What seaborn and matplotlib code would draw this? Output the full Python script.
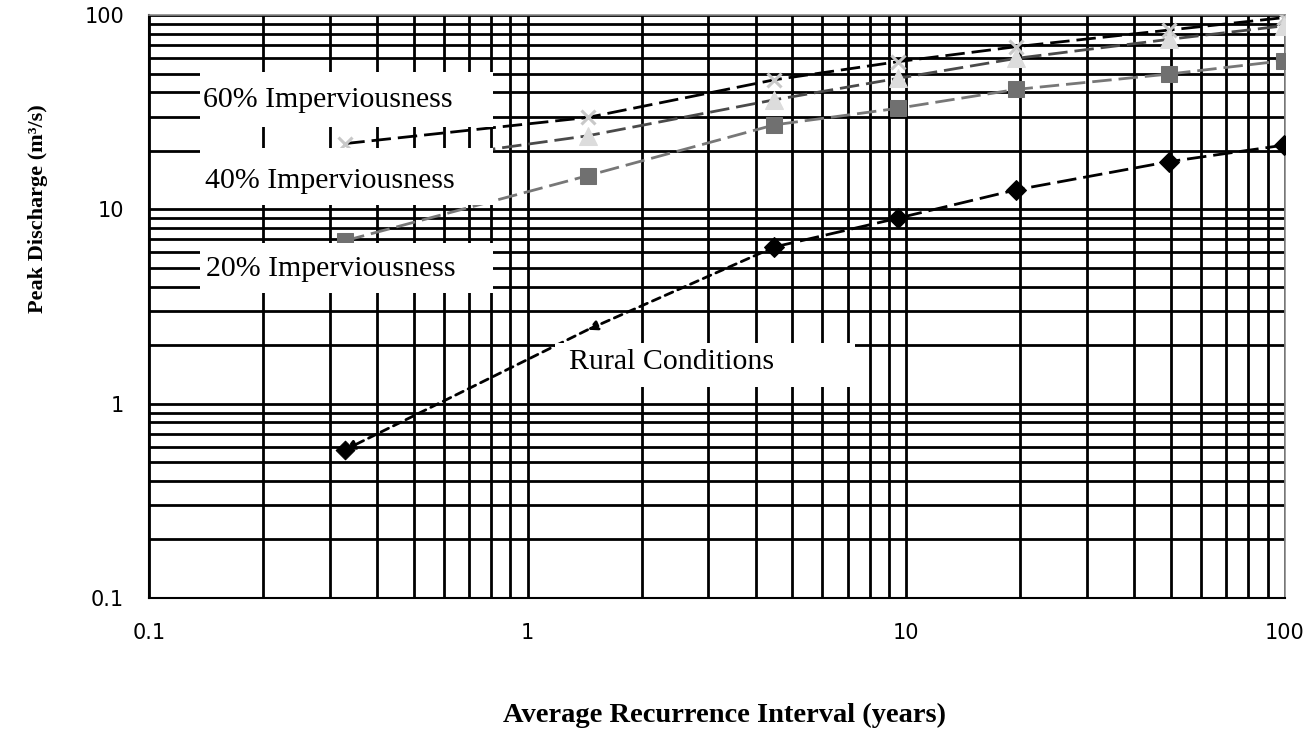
import numpy as np
import pandas as pd
import matplotlib
matplotlib.use("Agg")
import matplotlib.pyplot as plt
import matplotlib.ticker as mticker
from matplotlib.patches import Rectangle
import seaborn as sns

# ---------------- data ----------------
ari_years = [0.33, 1.44, 4.48, 9.49, 19.5, 49.5, 99.5]
rural = [0.58, 2.4, 6.4, 9.0, 12.6, 17.6, 21.4]
imp20 = [6.9, 14.9, 27.2, 33.1, 41.4, 49.7, 58.2]
imp40 = [16.0, 23.9, 36.6, 47.2, 59.8, 75.0, 88.0]
imp60 = [21.8, 29.7, 46.4, 57.5, 68.7, 83.7, 97.0]

xtick_vals = [0.1, 1, 10, 100]
xtick_labels = ["0.1", "1", "10", "100"]
ytick_vals = [0.1, 1, 10, 100]
ytick_labels = ["0.1", "1", "10", "100"]

label60 = "60% Imperviousness"
label40 = "40% Imperviousness"
label20 = "20% Imperviousness"
label_rural = "Rural Conditions"
xlabel = "Average Recurrence Interval (years)"
ylabel = "Peak Discharge (m\u00b3/s)"

# ---------------- figure ----------------
sns.set_theme(style="white")
plt.rcParams["font.family"] = ["DejaVu Sans"]
plt.rcParams["text.color"] = "black"

W, H = 1312, 729
fig = plt.figure(figsize=(W / 100, H / 100), dpi=100)
ax = fig.add_axes([149 / W, 1 - 598 / H, (1285 - 149) / W, (598 - 15) / H])

ax.set_xscale("log")
ax.set_yscale("log")
ax.set_xlim(0.1, 100)
ax.set_ylim(0.1, 100)

# grid
ax.xaxis.set_minor_locator(mticker.LogLocator(base=10, subs=np.arange(2, 10)))
ax.yaxis.set_minor_locator(mticker.LogLocator(base=10, subs=np.arange(2, 10)))
ax.xaxis.set_minor_formatter(mticker.NullFormatter())
ax.yaxis.set_minor_formatter(mticker.NullFormatter())
ax.grid(True, which="both", color="black", linewidth=2.0, zorder=0)
ax.set_axisbelow(True)

ls = (0, (7, 2.5))
df = pd.DataFrame({"x": ari_years, "rural": rural, "i20": imp20, "i40": imp40, "i60": imp60})

sns.lineplot(data=df, x="x", y="i60", ax=ax, color="black", linewidth=2.0, linestyle=ls,
             marker="x", markersize=10, markeredgewidth=2.2, markeredgecolor="#c8c8c8",
             zorder=3, errorbar=None)
sns.lineplot(data=df, x="x", y="i40", ax=ax, color="#4a4a4a", linewidth=2.0, linestyle=ls,
             marker="^", markersize=13, markerfacecolor="#dcdcdc", markeredgecolor="#dcdcdc",
             zorder=3, errorbar=None)
sns.lineplot(data=df, x="x", y="i20", ax=ax, color="#777777", linewidth=2.0, linestyle=ls,
             marker="s", markersize=12, markerfacecolor="#707070", markeredgecolor="#707070",
             zorder=3, errorbar=None)
# rural: full line from index 2, arrows for the first two segments
df_r = df.iloc[2:]
sns.lineplot(data=df_r, x="x", y="rural", ax=ax, color="black", linewidth=2.0, linestyle=ls,
             marker="D", markersize=10, markerfacecolor="black", markeredgecolor="black",
             zorder=3, errorbar=None)
sns.scatterplot(x=[ari_years[0]], y=[rural[0]], ax=ax, color="black", marker="D", s=90,
                zorder=3, edgecolor="black")
arrow_kw = dict(arrowstyle="-|>", color="black", lw=2.0, linestyle=(0, (3, 2)),
                shrinkA=0, shrinkB=0, mutation_scale=14)
ax.annotate("", xy=(ari_years[1], rural[1]), xytext=(ari_years[2], rural[2]),
            arrowprops=arrow_kw, zorder=3)
ax.annotate("", xy=(ari_years[0], rural[0]), xytext=(ari_years[1], rural[1]),
            arrowprops=arrow_kw, zorder=3)

# label boxes (white) with text
def label_box(x0, y0, x1, y1, text, tx, ty):
    r = Rectangle((x0 / W, 1 - y1 / H), (x1 - x0) / W, (y1 - y0) / H,
                  transform=fig.transFigure, facecolor="white", edgecolor="none",
                  zorder=5, clip_on=False)
    ax.add_patch(r)
    ax.text(tx / W, 1 - ty / H, text, transform=fig.transFigure, ha="left", va="center",
            fontsize=21.5, family=["Liberation Serif", "DejaVu Serif"], color="black", zorder=6)

label_box(200, 72, 493, 127, label60, 203, 100)
label_box(200, 148, 493, 205, label40, 205, 181)
label_box(200, 243, 493, 293, label20, 206, 269)
label_box(555, 343, 855, 387, label_rural, 569, 362)

# ticks
ax.set_xticks(xtick_vals)
ax.set_xticklabels(xtick_labels, fontsize=15, color="black")
ax.set_yticks(ytick_vals)
ax.set_yticklabels(ytick_labels, fontsize=15, color="black")
ax.tick_params(axis="both", which="major", direction="out", length=6, width=1.3,
               color="black")
ax.tick_params(axis="x", which="major", pad=12)
ax.tick_params(axis="y", which="major", pad=12)
ax.tick_params(axis="both", which="minor", length=0)
ax.set_xlabel("")
ax.set_ylabel("")

for s in ["left", "bottom"]:
    ax.spines[s].set_color("black")
    ax.spines[s].set_linewidth(1.5)
for s in ["top", "right"]:
    ax.spines[s].set_color("#8a8a8a")
    ax.spines[s].set_linewidth(1.2)

fig.text(724 / W, 1 - 715 / H, xlabel, ha="center", va="center", fontsize=20.5,
         fontweight="bold", color="black", family=["Liberation Serif", "DejaVu Serif"])
fig.text(38 / W, 1 - 209 / H, ylabel, ha="center", va="center", rotation=90, fontsize=16,
         fontweight="bold", color="black", family=["Liberation Serif", "DejaVu Serif"])

fig.savefig("out.png", dpi=100, facecolor="white")
